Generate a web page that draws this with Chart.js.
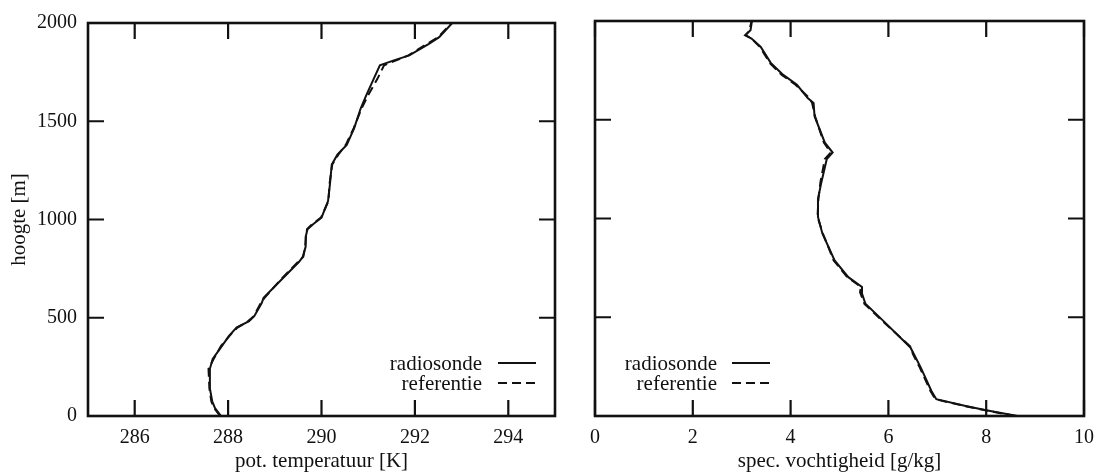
<!DOCTYPE html>
<html>
<head>
<meta charset="utf-8">
<script src="https://cdn.jsdelivr.net/npm/chart.js@4.4.1/dist/chart.umd.min.js"></script>
<style>
  html, body { margin: 0; padding: 0; background: #fff; }
  #wrap { position: relative; width: 1104px; height: 472px; overflow: hidden; }
  canvas { position: absolute; top: 0; }
  #cTheta { left: 0; }
  #cQ { left: 560px; }
</style>
</head>
<body>
<div id="wrap">
  <canvas id="cTheta" width="570" height="472"></canvas>
  <canvas id="cQ" width="544" height="472"></canvas>
</div>
<script>
// Potential temperature profile [K] against height [m]
const heightsTheta = [0, 40, 75, 140, 240, 290, 357, 408, 450, 483, 508, 575, 601, 693, 785, 810, 861, 911, 950, 976, 1010, 1094, 1178, 1280, 1330, 1380, 1465, 1566, 1633, 1717, 1785, 1810, 1835, 1894, 1928, 2000];
const thetaRadiosonde = [287.85, 287.72, 287.66, 287.61, 287.61, 287.67, 287.87, 288.02, 288.18, 288.45, 288.56, 288.72, 288.76, 289.14, 289.52, 289.60, 289.66, 289.66, 289.70, 289.82, 290.00, 290.14, 290.18, 290.22, 290.34, 290.54, 290.70, 290.84, 290.96, 291.12, 291.25, 291.55, 291.88, 292.30, 292.52, 292.80];
const thetaReferentie = [287.83, 287.70, 287.64, 287.60, 287.58, 287.69, 287.85, 288.03, 288.20, 288.43, 288.55, 288.70, 288.78, 289.12, 289.50, 289.61, 289.65, 289.67, 289.69, 289.80, 289.99, 290.15, 290.17, 290.23, 290.36, 290.52, 290.69, 290.86, 291.00, 291.20, 291.34, 291.60, 291.86, 292.26, 292.50, 292.78];

// Specific humidity profile [g/kg] against height [m]
const heightsQ = [0, 29, 51, 85, 127, 246, 314, 347, 483, 568, 627, 653, 703, 788, 924, 1008, 1100, 1184, 1301, 1334, 1384, 1518, 1585, 1610, 1677, 1727, 1786, 1869, 1911, 1928, 1953, 2000];
const qRadiosonde = [8.64, 8.00, 7.58, 6.98, 6.88, 6.66, 6.52, 6.45, 5.89, 5.53, 5.45, 5.46, 5.18, 4.90, 4.65, 4.56, 4.56, 4.63, 4.74, 4.86, 4.70, 4.49, 4.47, 4.35, 4.13, 3.85, 3.60, 3.39, 3.20, 3.07, 3.18, 3.21];
const qReferentie = [8.60, 7.98, 7.55, 6.96, 6.86, 6.64, 6.50, 6.47, 5.87, 5.51, 5.42, 5.44, 5.16, 4.88, 4.66, 4.55, 4.57, 4.61, 4.70, 4.82, 4.68, 4.50, 4.44, 4.38, 4.10, 3.82, 3.58, 3.37, 3.20, 3.08, 3.16, 3.20];

// Axis ticks and labels
const thetaTicks = [286, 288, 290, 292, 294];
const qTicks = [0, 2, 4, 6, 8, 10];
const heightTicks = [0, 500, 1000, 1500, 2000];
const seriesLabels = ['radiosonde', 'referentie'];
const axisTitles = { theta: 'pot. temperatuur [K]', q: 'spec. vochtigheid [g/kg]', height: 'hoogte [m]' };

const INK = '#111';
const SERIF = '"Liberation Serif", "Times New Roman", "DejaVu Serif", serif';
Chart.defaults.font.family = SERIF;
Chart.defaults.color = INK;

function toPoints(xs, hs) {
  return xs.map((v, i) => ({ x: v, y: hs[i] }));
}

// Box frame with inward tick marks on all four sides
const frameTicks = {
  id: 'frameTicks',
  afterDatasetsDraw(chart, args, opts) {
    const { ctx, chartArea: a, scales } = chart;
    const L = opts.length;
    ctx.save();
    ctx.strokeStyle = INK;
    ctx.lineWidth = 2.2;
    ctx.beginPath();
    opts.xTicks.forEach(v => {
      const px = scales.x.getPixelForValue(v);
      ctx.moveTo(px, a.bottom); ctx.lineTo(px, a.bottom - L);
      ctx.moveTo(px, a.top); ctx.lineTo(px, a.top + L);
    });
    opts.yTicks.forEach(v => {
      const py = scales.y.getPixelForValue(v);
      ctx.moveTo(a.left, py); ctx.lineTo(a.left + L, py);
      ctx.moveTo(a.right, py); ctx.lineTo(a.right - L, py);
    });
    ctx.stroke();
    ctx.lineWidth = 2.6;
    ctx.strokeRect(a.left, a.top, a.right - a.left, a.bottom - a.top);
    ctx.restore();
  }
};

// Legend: label text followed by a short line sample
const sideLegend = {
  id: 'sideLegend',
  afterDraw(chart, args, opts) {
    const { ctx, chartArea: a } = chart;
    ctx.save();
    ctx.font = '21px ' + SERIF;
    ctx.fillStyle = INK;
    ctx.strokeStyle = INK;
    ctx.textAlign = 'right';
    ctx.textBaseline = 'middle';
    const x1 = opts.anchor === 'right' ? a.right - opts.edge - opts.sample : a.left + opts.edge;
    chart.data.datasets.forEach((ds, i) => {
      const y = a.bottom - opts.bottomOffset + i * opts.rowGap;
      ctx.fillText(ds.label, x1 - opts.gap, y + 1);
      ctx.lineWidth = ds.borderWidth;
      ctx.setLineDash(ds.borderDash || []);
      ctx.beginPath();
      ctx.moveTo(x1, y);
      ctx.lineTo(x1 + opts.sample, y);
      ctx.stroke();
    });
    ctx.restore();
  }
};

function makePanel(canvas, cfg) {
  return new Chart(canvas, {
    type: 'scatter',
    data: {
      datasets: [
        { label: seriesLabels[0], data: toPoints(cfg.radio, cfg.heights), showLine: true,
          borderColor: INK, borderWidth: 2, pointRadius: 0, tension: 0 },
        { label: seriesLabels[1], data: toPoints(cfg.ref, cfg.heights), showLine: true,
          borderColor: INK, borderWidth: 2, borderDash: [9, 5], pointRadius: 0, tension: 0 }
      ]
    },
    options: {
      responsive: false,
      animation: false,
      events: [],
      layout: { padding: cfg.padding },
      plugins: {
        legend: { display: false },
        tooltip: { enabled: false },
        frameTicks: { xTicks: cfg.xTicks, yTicks: heightTicks, length: 16 },
        sideLegend: cfg.legend
      },
      scales: {
        x: {
          type: 'linear',
          min: cfg.xMin, max: cfg.xMax,
          afterBuildTicks: s => { s.ticks = cfg.xTicks.map(v => ({ value: v })); },
          afterFit: s => { s.height = 56; },
          grid: { display: false, drawTicks: false },
          border: { display: false },
          ticks: { padding: 10, color: INK, font: { size: 20 }, callback: v => String(v) },
          title: { display: true, text: cfg.xTitle, color: INK, padding: { top: 0, bottom: 0 },
                   font: { size: 21, lineHeight: 1 } }
        },
        y: {
          type: 'linear',
          display: cfg.showY,
          min: 0, max: 2000,
          afterBuildTicks: s => { s.ticks = heightTicks.map(v => ({ value: v })); },
          afterFit: s => { s.width = cfg.yWidth; },
          grid: { display: false, drawTicks: false },
          border: { display: false },
          ticks: { padding: 11, color: INK, font: { size: 20 }, callback: v => String(v) },
          title: { display: true, text: axisTitles.height, color: INK, padding: { top: 9, bottom: 0 },
                   font: { size: 21, lineHeight: 1 } }
        }
      }
    },
    plugins: [frameTicks, sideLegend]
  });
}

makePanel(document.getElementById('cTheta'), {
  heights: heightsTheta, radio: thetaRadiosonde, ref: thetaReferentie,
  xMin: 285, xMax: 295, xTicks: thetaTicks, xTitle: axisTitles.theta,
  showY: true, yWidth: 88,
  padding: { top: 21, right: 15, bottom: 0, left: 0 },
  legend: { anchor: 'right', edge: 19, sample: 38, gap: 16, bottomOffset: 53, rowGap: 20 }
});

makePanel(document.getElementById('cQ'), {
  heights: heightsQ, radio: qRadiosonde, ref: qReferentie,
  xMin: 0, xMax: 10, xTicks: qTicks, xTitle: axisTitles.q,
  showY: false, yWidth: 0,
  padding: { top: 21, right: 16, bottom: 0, left: 35 },
  legend: { anchor: 'left', edge: 137, sample: 38, gap: 15, bottomOffset: 53, rowGap: 20 }
});
</script>
</body>
</html>
